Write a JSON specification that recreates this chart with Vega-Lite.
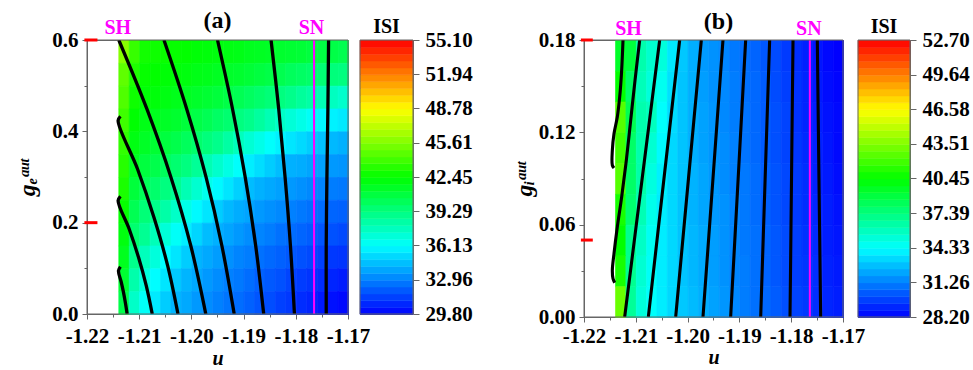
{
  "$schema": "https://vega.github.io/schema/vega-lite/v6.json",
  "background": "white",
  "padding": {"left": 14, "top": 8, "right": 2, "bottom": 2},
  "config": {
    "font": "Liberation Serif",
    "view": {"stroke": "#666666", "strokeWidth": 1},
    "axis": {"labelFont": "Liberation Serif", "labelFontWeight": "bold", "labelFontSize": 21, "labelColor": "black", "titleFont": "Liberation Serif", "titleFontWeight": "bold", "titleColor": "black", "domainColor": "#666666", "tickColor": "#666666", "grid": false, "labelFlush": false, "labelOverlap": false, "zindex": 1},
    "title": {"font": "Liberation Serif", "fontWeight": "bold", "color": "black"}
  },
  "datasets": {
    "ha": [
      {"u":-1.213,"g":0.575,"v":45.8},{"u":-1.211,"g":0.575,"v":43.8},{"u":-1.209,"g":0.575,"v":42.9},{"u":-1.207,"g":0.575,"v":42.8},{"u":-1.205,"g":0.575,"v":42.7},{"u":-1.203,"g":0.575,"v":42.6},{"u":-1.201,"g":0.575,"v":42.5},{"u":-1.199,"g":0.575,"v":42.3},{"u":-1.197,"g":0.575,"v":42.2},{"u":-1.195,"g":0.575,"v":42.1},{"u":-1.193,"g":0.575,"v":42.0},{"u":-1.191,"g":0.575,"v":41.9},{"u":-1.189,"g":0.575,"v":41.7},{"u":-1.187,"g":0.575,"v":41.6},{"u":-1.185,"g":0.575,"v":41.5},{"u":-1.183,"g":0.575,"v":41.3},{"u":-1.181,"g":0.575,"v":41.2},{"u":-1.179,"g":0.575,"v":41.1},{"u":-1.177,"g":0.575,"v":40.9},{"u":-1.175,"g":0.575,"v":40.8},{"u":-1.173,"g":0.575,"v":40.7},{"u":-1.171,"g":0.575,"v":40.5},
      {"u":-1.213,"g":0.525,"v":44.8},{"u":-1.211,"g":0.525,"v":43.2},{"u":-1.209,"g":0.525,"v":42.6},{"u":-1.207,"g":0.525,"v":42.5},{"u":-1.205,"g":0.525,"v":42.3},{"u":-1.203,"g":0.525,"v":42.2},{"u":-1.201,"g":0.525,"v":42.1},{"u":-1.199,"g":0.525,"v":41.9},{"u":-1.197,"g":0.525,"v":41.8},{"u":-1.195,"g":0.525,"v":41.6},{"u":-1.193,"g":0.525,"v":41.4},{"u":-1.191,"g":0.525,"v":41.3},{"u":-1.189,"g":0.525,"v":41.1},{"u":-1.187,"g":0.525,"v":40.9},{"u":-1.185,"g":0.525,"v":40.7},{"u":-1.183,"g":0.525,"v":40.5},{"u":-1.181,"g":0.525,"v":40.2},{"u":-1.179,"g":0.525,"v":40.0},{"u":-1.177,"g":0.525,"v":39.8},{"u":-1.175,"g":0.525,"v":39.6},{"u":-1.173,"g":0.525,"v":39.4},{"u":-1.171,"g":0.525,"v":39.3},
      {"u":-1.213,"g":0.475,"v":44.4},{"u":-1.211,"g":0.475,"v":42.8},{"u":-1.209,"g":0.475,"v":42.3},{"u":-1.207,"g":0.475,"v":42.2},{"u":-1.205,"g":0.475,"v":42.0},{"u":-1.203,"g":0.475,"v":41.8},{"u":-1.201,"g":0.475,"v":41.6},{"u":-1.199,"g":0.475,"v":41.4},{"u":-1.197,"g":0.475,"v":41.2},{"u":-1.195,"g":0.475,"v":41.0},{"u":-1.193,"g":0.475,"v":40.7},{"u":-1.191,"g":0.475,"v":40.4},{"u":-1.189,"g":0.475,"v":40.1},{"u":-1.187,"g":0.475,"v":39.8},{"u":-1.185,"g":0.475,"v":39.5},{"u":-1.183,"g":0.475,"v":39.3},{"u":-1.181,"g":0.475,"v":39.0},{"u":-1.179,"g":0.475,"v":38.6},{"u":-1.177,"g":0.475,"v":38.3},{"u":-1.175,"g":0.475,"v":38.0},{"u":-1.173,"g":0.475,"v":37.7},{"u":-1.171,"g":0.475,"v":37.4},
      {"u":-1.213,"g":0.425,"v":44.0},{"u":-1.211,"g":0.425,"v":42.4},{"u":-1.209,"g":0.425,"v":41.9},{"u":-1.207,"g":0.425,"v":41.7},{"u":-1.205,"g":0.425,"v":41.5},{"u":-1.203,"g":0.425,"v":41.3},{"u":-1.201,"g":0.425,"v":41.0},{"u":-1.199,"g":0.425,"v":40.7},{"u":-1.197,"g":0.425,"v":40.4},{"u":-1.195,"g":0.425,"v":40.0},{"u":-1.193,"g":0.425,"v":39.7},{"u":-1.191,"g":0.425,"v":39.3},{"u":-1.189,"g":0.425,"v":39.0},{"u":-1.187,"g":0.425,"v":38.5},{"u":-1.185,"g":0.425,"v":38.0},{"u":-1.183,"g":0.425,"v":37.5},{"u":-1.181,"g":0.425,"v":37.1},{"u":-1.179,"g":0.425,"v":36.7},{"u":-1.177,"g":0.425,"v":36.3},{"u":-1.175,"g":0.425,"v":36.0},{"u":-1.173,"g":0.425,"v":35.8},{"u":-1.171,"g":0.425,"v":35.6},
      {"u":-1.213,"g":0.375,"v":43.7},{"u":-1.211,"g":0.375,"v":42.0},{"u":-1.209,"g":0.375,"v":41.5},{"u":-1.207,"g":0.375,"v":41.2},{"u":-1.205,"g":0.375,"v":40.9},{"u":-1.203,"g":0.375,"v":40.6},{"u":-1.201,"g":0.375,"v":40.2},{"u":-1.199,"g":0.375,"v":39.8},{"u":-1.197,"g":0.375,"v":39.4},{"u":-1.195,"g":0.375,"v":39.0},{"u":-1.193,"g":0.375,"v":38.4},{"u":-1.191,"g":0.375,"v":37.8},{"u":-1.189,"g":0.375,"v":37.2},{"u":-1.187,"g":0.375,"v":36.7},{"u":-1.185,"g":0.375,"v":36.2},{"u":-1.183,"g":0.375,"v":35.8},{"u":-1.181,"g":0.375,"v":35.5},{"u":-1.179,"g":0.375,"v":35.2},{"u":-1.177,"g":0.375,"v":34.9},{"u":-1.175,"g":0.375,"v":34.6},{"u":-1.173,"g":0.375,"v":34.4},{"u":-1.171,"g":0.375,"v":34.2},
      {"u":-1.213,"g":0.325,"v":43.4},{"u":-1.211,"g":0.325,"v":41.6},{"u":-1.209,"g":0.325,"v":40.9},{"u":-1.207,"g":0.325,"v":40.6},{"u":-1.205,"g":0.325,"v":40.2},{"u":-1.203,"g":0.325,"v":39.7},{"u":-1.201,"g":0.325,"v":39.3},{"u":-1.199,"g":0.325,"v":38.7},{"u":-1.197,"g":0.325,"v":38.0},{"u":-1.195,"g":0.325,"v":37.4},{"u":-1.193,"g":0.325,"v":36.8},{"u":-1.191,"g":0.325,"v":36.2},{"u":-1.189,"g":0.325,"v":35.7},{"u":-1.187,"g":0.325,"v":35.3},{"u":-1.185,"g":0.325,"v":34.9},{"u":-1.183,"g":0.325,"v":34.5},{"u":-1.181,"g":0.325,"v":34.2},{"u":-1.179,"g":0.325,"v":34.1},{"u":-1.177,"g":0.325,"v":33.9},{"u":-1.175,"g":0.325,"v":33.8},{"u":-1.173,"g":0.325,"v":33.6},{"u":-1.171,"g":0.325,"v":33.5},
      {"u":-1.213,"g":0.275,"v":43.1},{"u":-1.211,"g":0.275,"v":41.0},{"u":-1.209,"g":0.275,"v":40.3},{"u":-1.207,"g":0.275,"v":39.8},{"u":-1.205,"g":0.275,"v":39.3},{"u":-1.203,"g":0.275,"v":38.8},{"u":-1.201,"g":0.275,"v":38.0},{"u":-1.199,"g":0.275,"v":37.3},{"u":-1.197,"g":0.275,"v":36.6},{"u":-1.195,"g":0.275,"v":36.0},{"u":-1.193,"g":0.275,"v":35.5},{"u":-1.191,"g":0.275,"v":35.0},{"u":-1.189,"g":0.275,"v":34.5},{"u":-1.187,"g":0.275,"v":34.2},{"u":-1.185,"g":0.275,"v":34.0},{"u":-1.183,"g":0.275,"v":33.8},{"u":-1.181,"g":0.275,"v":33.6},{"u":-1.179,"g":0.275,"v":33.4},{"u":-1.177,"g":0.275,"v":33.2},{"u":-1.175,"g":0.275,"v":33.1},{"u":-1.173,"g":0.275,"v":32.9},{"u":-1.171,"g":0.275,"v":32.8},
      {"u":-1.213,"g":0.225,"v":42.6},{"u":-1.211,"g":0.225,"v":40.4},{"u":-1.209,"g":0.225,"v":39.5},{"u":-1.207,"g":0.225,"v":39.0},{"u":-1.205,"g":0.225,"v":38.3},{"u":-1.203,"g":0.225,"v":37.5},{"u":-1.201,"g":0.225,"v":36.7},{"u":-1.199,"g":0.225,"v":36.0},{"u":-1.197,"g":0.225,"v":35.5},{"u":-1.195,"g":0.225,"v":34.9},{"u":-1.193,"g":0.225,"v":34.4},{"u":-1.191,"g":0.225,"v":34.1},{"u":-1.189,"g":0.225,"v":33.9},{"u":-1.187,"g":0.225,"v":33.6},{"u":-1.185,"g":0.225,"v":33.4},{"u":-1.183,"g":0.225,"v":33.2},{"u":-1.181,"g":0.225,"v":33.0},{"u":-1.179,"g":0.225,"v":32.8},{"u":-1.177,"g":0.225,"v":32.6},{"u":-1.175,"g":0.225,"v":32.5},{"u":-1.173,"g":0.225,"v":32.3},{"u":-1.171,"g":0.225,"v":32.2},
      {"u":-1.213,"g":0.175,"v":42.1},{"u":-1.211,"g":0.175,"v":39.7},{"u":-1.209,"g":0.175,"v":38.8},{"u":-1.207,"g":0.175,"v":37.9},{"u":-1.205,"g":0.175,"v":37.1},{"u":-1.203,"g":0.175,"v":36.3},{"u":-1.201,"g":0.175,"v":35.7},{"u":-1.199,"g":0.175,"v":35.1},{"u":-1.197,"g":0.175,"v":34.5},{"u":-1.195,"g":0.175,"v":34.2},{"u":-1.193,"g":0.175,"v":33.9},{"u":-1.191,"g":0.175,"v":33.6},{"u":-1.189,"g":0.175,"v":33.3},{"u":-1.187,"g":0.175,"v":33.1},{"u":-1.185,"g":0.175,"v":32.9},{"u":-1.183,"g":0.175,"v":32.6},{"u":-1.181,"g":0.175,"v":32.5},{"u":-1.179,"g":0.175,"v":32.3},{"u":-1.177,"g":0.175,"v":32.1},{"u":-1.175,"g":0.175,"v":31.9},{"u":-1.173,"g":0.175,"v":31.8},{"u":-1.171,"g":0.175,"v":31.6},
      {"u":-1.213,"g":0.125,"v":41.7},{"u":-1.211,"g":0.125,"v":39.0},{"u":-1.209,"g":0.125,"v":37.8},{"u":-1.207,"g":0.125,"v":37.0},{"u":-1.205,"g":0.125,"v":36.1},{"u":-1.203,"g":0.125,"v":35.5},{"u":-1.201,"g":0.125,"v":34.9},{"u":-1.199,"g":0.125,"v":34.3},{"u":-1.197,"g":0.125,"v":34.0},{"u":-1.195,"g":0.125,"v":33.7},{"u":-1.193,"g":0.125,"v":33.4},{"u":-1.191,"g":0.125,"v":33.1},{"u":-1.189,"g":0.125,"v":32.9},{"u":-1.187,"g":0.125,"v":32.6},{"u":-1.185,"g":0.125,"v":32.4},{"u":-1.183,"g":0.125,"v":32.2},{"u":-1.181,"g":0.125,"v":32.0},{"u":-1.179,"g":0.125,"v":31.8},{"u":-1.177,"g":0.125,"v":31.6},{"u":-1.175,"g":0.125,"v":31.4},{"u":-1.173,"g":0.125,"v":31.2},{"u":-1.171,"g":0.125,"v":31.1},
      {"u":-1.213,"g":0.075,"v":41.2},{"u":-1.211,"g":0.075,"v":38.2},{"u":-1.209,"g":0.075,"v":37.0},{"u":-1.207,"g":0.075,"v":36.1},{"u":-1.205,"g":0.075,"v":35.5},{"u":-1.203,"g":0.075,"v":34.8},{"u":-1.201,"g":0.075,"v":34.3},{"u":-1.199,"g":0.075,"v":34.0},{"u":-1.197,"g":0.075,"v":33.6},{"u":-1.195,"g":0.075,"v":33.3},{"u":-1.193,"g":0.075,"v":33.0},{"u":-1.191,"g":0.075,"v":32.8},{"u":-1.189,"g":0.075,"v":32.5},{"u":-1.187,"g":0.075,"v":32.2},{"u":-1.185,"g":0.075,"v":32.0},{"u":-1.183,"g":0.075,"v":31.8},{"u":-1.181,"g":0.075,"v":31.5},{"u":-1.179,"g":0.075,"v":31.3},{"u":-1.177,"g":0.075,"v":31.1},{"u":-1.175,"g":0.075,"v":30.9},{"u":-1.173,"g":0.075,"v":30.7},{"u":-1.171,"g":0.075,"v":30.5},
      {"u":-1.213,"g":0.025,"v":40.6},{"u":-1.211,"g":0.025,"v":37.5},{"u":-1.209,"g":0.025,"v":36.3},{"u":-1.207,"g":0.025,"v":35.6},{"u":-1.205,"g":0.025,"v":34.9},{"u":-1.203,"g":0.025,"v":34.3},{"u":-1.201,"g":0.025,"v":34.0},{"u":-1.199,"g":0.025,"v":33.6},{"u":-1.197,"g":0.025,"v":33.3},{"u":-1.195,"g":0.025,"v":33.0},{"u":-1.193,"g":0.025,"v":32.7},{"u":-1.191,"g":0.025,"v":32.5},{"u":-1.189,"g":0.025,"v":32.2},{"u":-1.187,"g":0.025,"v":31.9},{"u":-1.185,"g":0.025,"v":31.7},{"u":-1.183,"g":0.025,"v":31.4},{"u":-1.181,"g":0.025,"v":31.2},{"u":-1.179,"g":0.025,"v":30.9},{"u":-1.177,"g":0.025,"v":30.7},{"u":-1.175,"g":0.025,"v":30.4},{"u":-1.173,"g":0.025,"v":30.2},{"u":-1.171,"g":0.025,"v":30.0}
    ],
    "hb": [
      {"u":-1.213,"g":0.17,"v":39.5},{"u":-1.211,"g":0.17,"v":39.0},{"u":-1.209,"g":0.17,"v":36.3},{"u":-1.207,"g":0.17,"v":35.5},{"u":-1.205,"g":0.17,"v":35.2},{"u":-1.203,"g":0.17,"v":33.8},{"u":-1.201,"g":0.17,"v":33.0},{"u":-1.199,"g":0.17,"v":32.4},{"u":-1.197,"g":0.17,"v":31.9},{"u":-1.195,"g":0.17,"v":31.7},{"u":-1.193,"g":0.17,"v":31.4},{"u":-1.191,"g":0.17,"v":31.1},{"u":-1.189,"g":0.17,"v":30.9},{"u":-1.187,"g":0.17,"v":30.6},{"u":-1.185,"g":0.17,"v":30.3},{"u":-1.183,"g":0.17,"v":30.0},{"u":-1.181,"g":0.17,"v":29.6},{"u":-1.179,"g":0.17,"v":29.3},{"u":-1.177,"g":0.17,"v":29.0},{"u":-1.175,"g":0.17,"v":28.7},{"u":-1.173,"g":0.17,"v":28.4},{"u":-1.171,"g":0.17,"v":28.2},
      {"u":-1.213,"g":0.15,"v":40.5},{"u":-1.211,"g":0.15,"v":38.0},{"u":-1.209,"g":0.15,"v":36.0},{"u":-1.207,"g":0.15,"v":35.2},{"u":-1.205,"g":0.15,"v":34.7},{"u":-1.203,"g":0.15,"v":33.6},{"u":-1.201,"g":0.15,"v":32.9},{"u":-1.199,"g":0.15,"v":32.4},{"u":-1.197,"g":0.15,"v":32.0},{"u":-1.195,"g":0.15,"v":31.7},{"u":-1.193,"g":0.15,"v":31.5},{"u":-1.191,"g":0.15,"v":31.2},{"u":-1.189,"g":0.15,"v":30.9},{"u":-1.187,"g":0.15,"v":30.7},{"u":-1.185,"g":0.15,"v":30.4},{"u":-1.183,"g":0.15,"v":30.0},{"u":-1.181,"g":0.15,"v":29.7},{"u":-1.179,"g":0.15,"v":29.4},{"u":-1.177,"g":0.15,"v":29.1},{"u":-1.175,"g":0.15,"v":28.8},{"u":-1.173,"g":0.15,"v":28.5},{"u":-1.171,"g":0.15,"v":28.3},
      {"u":-1.213,"g":0.13,"v":42.5},{"u":-1.211,"g":0.13,"v":38.5},{"u":-1.209,"g":0.13,"v":36.3},{"u":-1.207,"g":0.13,"v":35.9},{"u":-1.205,"g":0.13,"v":34.4},{"u":-1.203,"g":0.13,"v":33.5},{"u":-1.201,"g":0.13,"v":32.9},{"u":-1.199,"g":0.13,"v":32.4},{"u":-1.197,"g":0.13,"v":32.1},{"u":-1.195,"g":0.13,"v":31.8},{"u":-1.193,"g":0.13,"v":31.5},{"u":-1.191,"g":0.13,"v":31.2},{"u":-1.189,"g":0.13,"v":31.0},{"u":-1.187,"g":0.13,"v":30.7},{"u":-1.185,"g":0.13,"v":30.4},{"u":-1.183,"g":0.13,"v":30.1},{"u":-1.181,"g":0.13,"v":29.8},{"u":-1.179,"g":0.13,"v":29.4},{"u":-1.177,"g":0.13,"v":29.1},{"u":-1.175,"g":0.13,"v":28.9},{"u":-1.173,"g":0.13,"v":28.6},{"u":-1.171,"g":0.13,"v":28.4},
      {"u":-1.213,"g":0.11,"v":42.0},{"u":-1.211,"g":0.11,"v":38.0},{"u":-1.209,"g":0.11,"v":36.3},{"u":-1.207,"g":0.11,"v":35.4},{"u":-1.205,"g":0.11,"v":34.2},{"u":-1.203,"g":0.11,"v":33.4},{"u":-1.201,"g":0.11,"v":32.9},{"u":-1.199,"g":0.11,"v":32.4},{"u":-1.197,"g":0.11,"v":32.1},{"u":-1.195,"g":0.11,"v":31.8},{"u":-1.193,"g":0.11,"v":31.6},{"u":-1.191,"g":0.11,"v":31.3},{"u":-1.189,"g":0.11,"v":31.0},{"u":-1.187,"g":0.11,"v":30.7},{"u":-1.185,"g":0.11,"v":30.4},{"u":-1.183,"g":0.11,"v":30.1},{"u":-1.181,"g":0.11,"v":29.8},{"u":-1.179,"g":0.11,"v":29.5},{"u":-1.177,"g":0.11,"v":29.2},{"u":-1.175,"g":0.11,"v":29.0},{"u":-1.173,"g":0.11,"v":28.7},{"u":-1.171,"g":0.11,"v":28.4},
      {"u":-1.213,"g":0.09,"v":42.5},{"u":-1.211,"g":0.09,"v":38.0},{"u":-1.209,"g":0.09,"v":36.4},{"u":-1.207,"g":0.09,"v":35.1},{"u":-1.205,"g":0.09,"v":34.0},{"u":-1.203,"g":0.09,"v":33.4},{"u":-1.201,"g":0.09,"v":32.9},{"u":-1.199,"g":0.09,"v":32.5},{"u":-1.197,"g":0.09,"v":32.2},{"u":-1.195,"g":0.09,"v":31.9},{"u":-1.193,"g":0.09,"v":31.6},{"u":-1.191,"g":0.09,"v":31.3},{"u":-1.189,"g":0.09,"v":31.1},{"u":-1.187,"g":0.09,"v":30.8},{"u":-1.185,"g":0.09,"v":30.5},{"u":-1.183,"g":0.09,"v":30.2},{"u":-1.181,"g":0.09,"v":29.9},{"u":-1.179,"g":0.09,"v":29.6},{"u":-1.177,"g":0.09,"v":29.3},{"u":-1.175,"g":0.09,"v":29.0},{"u":-1.173,"g":0.09,"v":28.8},{"u":-1.171,"g":0.09,"v":28.5},
      {"u":-1.213,"g":0.07,"v":41.0},{"u":-1.211,"g":0.07,"v":37.8},{"u":-1.209,"g":0.07,"v":36.1},{"u":-1.207,"g":0.07,"v":34.8},{"u":-1.205,"g":0.07,"v":33.9},{"u":-1.203,"g":0.07,"v":33.4},{"u":-1.201,"g":0.07,"v":32.9},{"u":-1.199,"g":0.07,"v":32.5},{"u":-1.197,"g":0.07,"v":32.2},{"u":-1.195,"g":0.07,"v":31.9},{"u":-1.193,"g":0.07,"v":31.7},{"u":-1.191,"g":0.07,"v":31.4},{"u":-1.189,"g":0.07,"v":31.1},{"u":-1.187,"g":0.07,"v":30.8},{"u":-1.185,"g":0.07,"v":30.5},{"u":-1.183,"g":0.07,"v":30.2},{"u":-1.181,"g":0.07,"v":29.9},{"u":-1.179,"g":0.07,"v":29.6},{"u":-1.177,"g":0.07,"v":29.3},{"u":-1.175,"g":0.07,"v":29.1},{"u":-1.173,"g":0.07,"v":28.9},{"u":-1.171,"g":0.07,"v":28.6},
      {"u":-1.213,"g":0.05,"v":40.5},{"u":-1.211,"g":0.05,"v":37.0},{"u":-1.209,"g":0.05,"v":35.7},{"u":-1.207,"g":0.05,"v":34.6},{"u":-1.205,"g":0.05,"v":33.9},{"u":-1.203,"g":0.05,"v":33.4},{"u":-1.201,"g":0.05,"v":32.9},{"u":-1.199,"g":0.05,"v":32.6},{"u":-1.197,"g":0.05,"v":32.3},{"u":-1.195,"g":0.05,"v":32.0},{"u":-1.193,"g":0.05,"v":31.7},{"u":-1.191,"g":0.05,"v":31.4},{"u":-1.189,"g":0.05,"v":31.1},{"u":-1.187,"g":0.05,"v":30.9},{"u":-1.185,"g":0.05,"v":30.6},{"u":-1.183,"g":0.05,"v":30.3},{"u":-1.181,"g":0.05,"v":30.0},{"u":-1.179,"g":0.05,"v":29.7},{"u":-1.177,"g":0.05,"v":29.4},{"u":-1.175,"g":0.05,"v":29.2},{"u":-1.173,"g":0.05,"v":28.9},{"u":-1.171,"g":0.05,"v":28.7},
      {"u":-1.213,"g":0.03,"v":41.0},{"u":-1.211,"g":0.03,"v":37.0},{"u":-1.209,"g":0.03,"v":35.4},{"u":-1.207,"g":0.03,"v":34.5},{"u":-1.205,"g":0.03,"v":33.9},{"u":-1.203,"g":0.03,"v":33.4},{"u":-1.201,"g":0.03,"v":32.9},{"u":-1.199,"g":0.03,"v":32.6},{"u":-1.197,"g":0.03,"v":32.3},{"u":-1.195,"g":0.03,"v":32.0},{"u":-1.193,"g":0.03,"v":31.7},{"u":-1.191,"g":0.03,"v":31.4},{"u":-1.189,"g":0.03,"v":31.2},{"u":-1.187,"g":0.03,"v":30.9},{"u":-1.185,"g":0.03,"v":30.6},{"u":-1.183,"g":0.03,"v":30.3},{"u":-1.181,"g":0.03,"v":30.0},{"u":-1.179,"g":0.03,"v":29.7},{"u":-1.177,"g":0.03,"v":29.5},{"u":-1.175,"g":0.03,"v":29.3},{"u":-1.173,"g":0.03,"v":29.0},{"u":-1.171,"g":0.03,"v":28.8},
      {"u":-1.213,"g":0.01,"v":43.0},{"u":-1.211,"g":0.01,"v":36.8},{"u":-1.209,"g":0.01,"v":35.2},{"u":-1.207,"g":0.01,"v":34.4},{"u":-1.205,"g":0.01,"v":33.9},{"u":-1.203,"g":0.01,"v":33.4},{"u":-1.201,"g":0.01,"v":33.0},{"u":-1.199,"g":0.01,"v":32.7},{"u":-1.197,"g":0.01,"v":32.4},{"u":-1.195,"g":0.01,"v":32.1},{"u":-1.193,"g":0.01,"v":31.8},{"u":-1.191,"g":0.01,"v":31.5},{"u":-1.189,"g":0.01,"v":31.2},{"u":-1.187,"g":0.01,"v":30.9},{"u":-1.185,"g":0.01,"v":30.7},{"u":-1.183,"g":0.01,"v":30.4},{"u":-1.181,"g":0.01,"v":30.1},{"u":-1.179,"g":0.01,"v":29.8},{"u":-1.177,"g":0.01,"v":29.6},{"u":-1.175,"g":0.01,"v":29.3},{"u":-1.173,"g":0.01,"v":29.1},{"u":-1.171,"g":0.01,"v":28.9}
    ],
    "la": [
      {"id":1,"u":-1.21359,"g":0.1036},{"id":1,"u":-1.21397,"g":0.0949},{"id":1,"u":-1.21346,"g":0.0708},{"id":1,"u":-1.21301,"g":0.0474},{"id":1,"u":-1.21263,"g":0.0234},{"id":1,"u":-1.21231,"g":0},
      {"id":2,"u":-1.21359,"g":0.2577},{"id":2,"u":-1.21404,"g":0.2482},{"id":2,"u":-1.21192,"g":0.1861},{"id":2,"u":-1.21013,"g":0.1241},{"id":2,"u":-1.20865,"g":0.062},{"id":2,"u":-1.2075,"g":0},
      {"id":3,"u":-1.21359,"g":0.4328},{"id":3,"u":-1.21404,"g":0.4233},{"id":3,"u":-1.21032,"g":0.3175},{"id":3,"u":-1.20718,"g":0.2117},{"id":3,"u":-1.20455,"g":0.1058},{"id":3,"u":-1.20257,"g":0},
      {"id":4,"u":-1.21391,"g":0.6},{"id":4,"u":-1.20853,"g":0.449},{"id":4,"u":-1.20391,"g":0.299},{"id":4,"u":-1.20013,"g":0.15},{"id":4,"u":-1.19724,"g":0},
      {"id":5,"u":-1.20526,"g":0.6},{"id":5,"u":-1.2009,"g":0.449},{"id":5,"u":-1.19718,"g":0.299},{"id":5,"u":-1.19417,"g":0.15},{"id":5,"u":-1.1918,"g":0},
      {"id":6,"u":-1.195,"g":0.6},{"id":6,"u":-1.19212,"g":0.449},{"id":6,"u":-1.18968,"g":0.299},{"id":6,"u":-1.18769,"g":0.15},{"id":6,"u":-1.18615,"g":0},
      {"id":7,"u":-1.18474,"g":0.6},{"id":7,"u":-1.18327,"g":0.449},{"id":7,"u":-1.18205,"g":0.299},{"id":7,"u":-1.18103,"g":0.15},{"id":7,"u":-1.18026,"g":0},
      {"id":8,"u":-1.17372,"g":0.6},{"id":8,"u":-1.17385,"g":0.449},{"id":8,"u":-1.17404,"g":0.299},{"id":8,"u":-1.17417,"g":0.15},{"id":8,"u":-1.17417,"g":0}
    ],
    "lb": [
      {"id":1,"u":-1.21247,"g":0.18},{"id":1,"u":-1.21273,"g":0.1603},{"id":1,"u":-1.21311,"g":0.143},{"id":1,"u":-1.21357,"g":0.13},{"id":1,"u":-1.21421,"g":0.1191},{"id":1,"u":-1.21453,"g":0.1083},{"id":1,"u":-1.21453,"g":0.0986},{"id":1,"u":-1.21421,"g":0.0968},
      {"id":2,"u":-1.20925,"g":0.18},{"id":2,"u":-1.21015,"g":0.1538},{"id":2,"u":-1.21099,"g":0.1278},{"id":2,"u":-1.21183,"g":0.1018},{"id":2,"u":-1.21273,"g":0.078},{"id":2,"u":-1.21357,"g":0.0585},{"id":2,"u":-1.21421,"g":0.0412},{"id":2,"u":-1.21453,"g":0.0303},{"id":2,"u":-1.2144,"g":0.0249},{"id":2,"u":-1.21408,"g":0.0223},
      {"id":3,"u":-1.20539,"g":0.18},{"id":3,"u":-1.20877,"g":0.09},{"id":3,"u":-1.21215,"g":0},
      {"id":4,"u":-1.20153,"g":0.18},{"id":4,"u":-1.20456,"g":0.09},{"id":4,"u":-1.20758,"g":0},
      {"id":5,"u":-1.19735,"g":0.18},{"id":5,"u":-1.19983,"g":0.09},{"id":5,"u":-1.2023,"g":0},
      {"id":6,"u":-1.19317,"g":0.18},{"id":6,"u":-1.1951,"g":0.09},{"id":6,"u":-1.19703,"g":0},
      {"id":7,"u":-1.18879,"g":0.18},{"id":7,"u":-1.19024,"g":0.09},{"id":7,"u":-1.19169,"g":0},
      {"id":8,"u":-1.18416,"g":0.18},{"id":8,"u":-1.18503,"g":0.09},{"id":8,"u":-1.18589,"g":0},
      {"id":9,"u":-1.17965,"g":0.18},{"id":9,"u":-1.17994,"g":0.09},{"id":9,"u":-1.18023,"g":0},
      {"id":10,"u":-1.17496,"g":0.18},{"id":10,"u":-1.17464,"g":0.09},{"id":10,"u":-1.17431,"g":0}
    ],
    "ca": [
      {"v":30.116},{"v":30.749},{"v":31.381},{"v":32.014},{"v":32.646},{"v":33.279},{"v":33.911},{"v":34.544},{"v":35.176},{"v":35.809},
      {"v":36.441},{"v":37.074},{"v":37.706},{"v":38.339},{"v":38.971},{"v":39.604},{"v":40.236},{"v":40.869},{"v":41.501},{"v":42.134},
      {"v":42.766},{"v":43.399},{"v":44.031},{"v":44.664},{"v":45.296},{"v":45.929},{"v":46.561},{"v":47.194},{"v":47.826},{"v":48.459},
      {"v":49.091},{"v":49.724},{"v":50.356},{"v":50.989},{"v":51.621},{"v":52.254},{"v":52.886},{"v":53.519},{"v":54.151},{"v":54.784}
    ],
    "cb": [
      {"v":28.506},{"v":29.119},{"v":29.731},{"v":30.344},{"v":30.956},{"v":31.569},{"v":32.181},{"v":32.794},{"v":33.406},{"v":34.019},
      {"v":34.631},{"v":35.244},{"v":35.856},{"v":36.469},{"v":37.081},{"v":37.694},{"v":38.306},{"v":38.919},{"v":39.531},{"v":40.144},
      {"v":40.756},{"v":41.369},{"v":41.981},{"v":42.594},{"v":43.206},{"v":43.819},{"v":44.431},{"v":45.044},{"v":45.656},{"v":46.269},
      {"v":46.881},{"v":47.494},{"v":48.106},{"v":48.719},{"v":49.331},{"v":49.944},{"v":50.556},{"v":51.169},{"v":51.781},{"v":52.394}
    ]
  },
  "spacing": 38,
  "resolve": {"scale": {"color": "independent", "stroke": "independent"}},
  "hconcat": [
    {
      "spacing": 12,
      "bounds": "flush",
      "resolve": {"scale": {"color": "shared", "stroke": "shared"}},
      "hconcat": [
        {
          "width": 261, "height": 274,
          "title": {"text": "(a)", "fontSize": 24, "frame": "group", "offset": -15},
          "layer": [
            {
              "data": {"name": "ha"},
              "mark": {"type": "rect", "strokeWidth": 0.7},
              "encoding": {
                "x": {"field": "u", "type": "quantitative", "bin": {"step": 0.002, "anchor": -1.214, "extent": [-1.214, -1.17], "nice": false}, "scale": {"domain": [-1.22, -1.17], "nice": false, "zero": false}, "title": "u",
                      "axis": {"values": [-1.22,-1.215,-1.21,-1.205,-1.2,-1.195,-1.19,-1.185,-1.18,-1.175,-1.17], "labelExpr": "abs(datum.value*100-round(datum.value*100))>0.1 ? '' : replace(format(datum.value,'.2f'),'\u2212','-')", "tickSize": {"condition": {"test": "abs(datum.value*100-round(datum.value*100))>0.1", "value": 3}, "value": 5}, "labelPadding": 6, "titleFontStyle": "italic", "titleFontSize": 20, "titlePadding": 2}},
                "y": {"field": "g", "type": "quantitative", "bin": {"step": 0.05, "anchor": 0, "extent": [0, 0.6], "nice": false}, "scale": {"domain": [0, 0.6], "nice": false, "zero": false}, "title": "gₑᵃᵘᵗ",
                      "axis": {"values": [0,0.1,0.2,0.3,0.4,0.5,0.6], "labelExpr": "abs(datum.value*5-round(datum.value*5))>0.1 ? '' : format(datum.value,'.1f')", "tickSize": {"condition": {"test": "abs(datum.value*5-round(datum.value*5))>0.1", "value": 3}, "value": 5}, "labelPadding": 4, "minExtent": 46, "maxExtent": 46, "titleFontStyle": "italic", "titleFontSize": 24, "titlePadding": 2}},
                "color": {"field": "v", "type": "quantitative", "scale": {"domain": [29.8, 36.13, 42.45, 48.78, 55.1], "range": ["#0000ff", "#00ffff", "#00ff00", "#ffff00", "#ff0000"], "interpolate": "rgb"}, "legend": null},
                "stroke": {"field": "v", "type": "quantitative", "scale": {"domain": [29.8, 36.13, 42.45, 48.78, 55.1], "range": ["#0000ff", "#00ffff", "#00ff00", "#ffff00", "#ff0000"], "interpolate": "rgb"}, "legend": null}
              }
            },
            {
              "data": {"name": "la"},
              "mark": {"type": "line", "color": "black", "strokeWidth": 3.3, "interpolate": "catmull-rom", "clip": true},
              "encoding": {
                "x": {"field": "u", "type": "quantitative", "title": "u"},
                "y": {"field": "g", "type": "quantitative", "title": "gₑᵃᵘᵗ"},
                "detail": {"field": "id", "type": "nominal"},
                "order": {"field": "g", "type": "quantitative", "sort": "descending"}
              }
            },
            {
              "data": {"values": [{"u": -1.1765}]},
              "mark": {"type": "rule", "color": "#ff00ff", "strokeWidth": 2},
              "encoding": {"x": {"field": "u", "type": "quantitative", "title": "u"}}
            },
            {
              "data": {"values": [{}]},
              "mark": {"type": "rect", "filled": false, "color": "#666666", "strokeWidth": 1},
              "encoding": {}
            },
            {
              "data": {"values": [{"u": -1.2205, "u2": -1.218, "g": 0.6}, {"u": -1.2205, "u2": -1.218, "g": 0.2}]},
              "mark": {"type": "rule", "color": "#ff0000", "strokeWidth": 3},
              "encoding": {"x": {"field": "u", "type": "quantitative", "title": "u"}, "x2": {"field": "u2"}, "y": {"field": "g", "type": "quantitative", "title": "gₑᵃᵘᵗ"}}
            },
            {
              "data": {"values": [{"u": -1.2141, "g": 0.6, "t": "SH"}, {"u": -1.177, "g": 0.6, "t": "SN"}]},
              "mark": {"type": "text", "color": "#ff00ff", "font": "Liberation Serif", "fontSize": 20, "fontWeight": "bold", "baseline": "alphabetic", "dy": -6},
              "encoding": {"x": {"field": "u", "type": "quantitative", "title": "u"}, "y": {"field": "g", "type": "quantitative", "title": "gₑᵃᵘᵗ"}, "text": {"field": "t"}}
            }
          ]
        },
        {
          "width": 53, "height": 274,
          "title": {"text": "ISI", "fontSize": 20, "frame": "group", "offset": -7.5},
          "layer": [
            {
              "data": {"name": "ca"},
              "mark": {"type": "rect", "strokeWidth": 0.5},
              "encoding": {
                "y": {"field": "v", "type": "quantitative", "bin": {"step": 0.6325, "anchor": 29.8, "extent": [29.8, 55.1], "nice": false}, "scale": {"domain": [29.8, 55.1], "nice": false, "zero": false}, "title": null,
                      "axis": {"orient": "right", "values": [29.8, 32.96, 36.13, 39.29, 42.45, 45.61, 48.78, 51.94, 55.1], "format": ".2f", "domain": false, "tickSize": 6, "labelPadding": 6}},
                "color": {"field": "v", "type": "quantitative", "legend": null},
                "stroke": {"field": "v", "type": "quantitative", "legend": null}
              }
            },
            {
              "data": {"values": [{}]},
              "mark": {"type": "rect", "filled": false, "color": "#666666", "strokeWidth": 1},
              "encoding": {}
            }
          ]
        }
      ]
    },
    {
      "spacing": 15,
      "bounds": "flush",
      "resolve": {"scale": {"color": "shared", "stroke": "shared"}},
      "hconcat": [
        {
          "width": 259, "height": 277,
          "title": {"text": "(b)", "fontSize": 24, "frame": "group", "offset": -15, "dx": 5},
          "layer": [
            {
              "data": {"name": "hb"},
              "mark": {"type": "rect", "strokeWidth": 0.7},
              "encoding": {
                "x": {"field": "u", "type": "quantitative", "bin": {"step": 0.002, "anchor": -1.214, "extent": [-1.214, -1.17], "nice": false}, "scale": {"domain": [-1.22, -1.17], "nice": false, "zero": false}, "title": "u",
                      "axis": {"values": [-1.22,-1.215,-1.21,-1.205,-1.2,-1.195,-1.19,-1.185,-1.18,-1.175,-1.17], "labelExpr": "abs(datum.value*100-round(datum.value*100))>0.1 ? '' : replace(format(datum.value,'.2f'),'\u2212','-')", "tickSize": {"condition": {"test": "abs(datum.value*100-round(datum.value*100))>0.1", "value": 3}, "value": 5}, "labelPadding": 3, "titleFontStyle": "italic", "titleFontSize": 20, "titlePadding": 1}},
                "y": {"field": "g", "type": "quantitative", "bin": {"step": 0.02, "anchor": 0, "extent": [0, 0.18], "nice": false}, "scale": {"domain": [0, 0.18], "nice": false, "zero": false}, "title": "gᵢᵃᵘᵗ",
                      "axis": {"values": [0,0.03,0.06,0.09,0.12,0.15,0.18], "labelExpr": "abs(datum.value/0.06-round(datum.value/0.06))>0.1 ? '' : format(datum.value,'.2f')", "tickSize": {"condition": {"test": "abs(datum.value/0.06-round(datum.value/0.06))>0.1", "value": 3}, "value": 5}, "labelPadding": 4, "minExtent": 46, "maxExtent": 46, "titleFontStyle": "italic", "titleFontSize": 24, "titlePadding": 2}},
                "color": {"field": "v", "type": "quantitative", "scale": {"domain": [28.2, 34.33, 40.45, 46.58, 52.7], "range": ["#0000ff", "#00ffff", "#00ff00", "#ffff00", "#ff0000"], "interpolate": "rgb"}, "legend": null},
                "stroke": {"field": "v", "type": "quantitative", "scale": {"domain": [28.2, 34.33, 40.45, 46.58, 52.7], "range": ["#0000ff", "#00ffff", "#00ff00", "#ffff00", "#ff0000"], "interpolate": "rgb"}, "legend": null}
              }
            },
            {
              "data": {"name": "lb"},
              "mark": {"type": "line", "color": "black", "strokeWidth": 3.1, "interpolate": "catmull-rom", "clip": true},
              "encoding": {
                "x": {"field": "u", "type": "quantitative", "title": "u"},
                "y": {"field": "g", "type": "quantitative", "title": "gᵢᵃᵘᵗ"},
                "detail": {"field": "id", "type": "nominal"},
                "order": {"field": "g", "type": "quantitative", "sort": "descending"}
              }
            },
            {
              "data": {"values": [{"u": -1.1764}]},
              "mark": {"type": "rule", "color": "#ff00ff", "strokeWidth": 2},
              "encoding": {"x": {"field": "u", "type": "quantitative", "title": "u"}}
            },
            {
              "data": {"values": [{}]},
              "mark": {"type": "rect", "filled": false, "color": "#666666", "strokeWidth": 1},
              "encoding": {}
            },
            {
              "data": {"values": [{"u": -1.2206, "u2": -1.2183, "g": 0.18}, {"u": -1.2206, "u2": -1.2183, "g": 0.05}]},
              "mark": {"type": "rule", "color": "#ff0000", "strokeWidth": 3},
              "encoding": {"x": {"field": "u", "type": "quantitative", "title": "u"}, "x2": {"field": "u2"}, "y": {"field": "g", "type": "quantitative", "title": "gᵢᵃᵘᵗ"}}
            },
            {
              "data": {"values": [{"u": -1.2114, "g": 0.18, "t": "SH"}, {"u": -1.1766, "g": 0.18, "t": "SN"}]},
              "mark": {"type": "text", "color": "#ff00ff", "font": "Liberation Serif", "fontSize": 20, "fontWeight": "bold", "baseline": "alphabetic", "dy": -5},
              "encoding": {"x": {"field": "u", "type": "quantitative", "title": "u"}, "y": {"field": "g", "type": "quantitative", "title": "gᵢᵃᵘᵗ"}, "text": {"field": "t"}}
            }
          ]
        },
        {
          "width": 52, "height": 277,
          "title": {"text": "ISI", "fontSize": 20, "frame": "group", "offset": -7.5},
          "layer": [
            {
              "data": {"name": "cb"},
              "mark": {"type": "rect", "strokeWidth": 0.5},
              "encoding": {
                "y": {"field": "v", "type": "quantitative", "bin": {"step": 0.6125, "anchor": 28.2, "extent": [28.2, 52.7], "nice": false}, "scale": {"domain": [28.2, 52.7], "nice": false, "zero": false}, "title": null,
                      "axis": {"orient": "right", "values": [28.2, 31.26, 34.33, 37.39, 40.45, 43.51, 46.58, 49.64, 52.7], "format": ".2f", "domain": false, "tickSize": 6, "labelPadding": 6}},
                "color": {"field": "v", "type": "quantitative", "legend": null},
                "stroke": {"field": "v", "type": "quantitative", "legend": null}
              }
            },
            {
              "data": {"values": [{}]},
              "mark": {"type": "rect", "filled": false, "color": "#666666", "strokeWidth": 1},
              "encoding": {}
            }
          ]
        }
      ]
    }
  ]
}
